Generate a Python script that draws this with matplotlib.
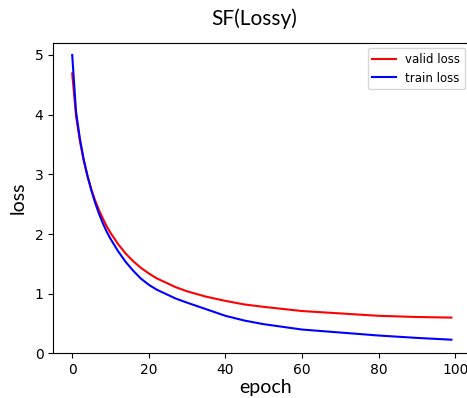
import numpy as np
import matplotlib.pyplot as plt

# values
epochs = [0, 1, 2, 3, 4, 5, 6, 7, 8, 9, 10, 12, 14, 16, 18, 20, 22, 25, 27, 30, 35, 40, 45, 50, 60, 70, 80, 90, 99]
valid_loss = [4.69, 3.98, 3.56, 3.23, 2.97, 2.75, 2.56, 2.40, 2.26, 2.13, 2.02, 1.83, 1.67, 1.54, 1.43,
              1.34, 1.26, 1.17, 1.11, 1.04, 0.95, 0.88, 0.82, 0.78, 0.71, 0.67, 0.63, 0.61, 0.60]
train_loss = [5.00, 4.05, 3.60, 3.25, 2.97, 2.73, 2.52, 2.34, 2.18, 2.04, 1.92, 1.71, 1.53, 1.38, 1.25,
              1.15, 1.07, 0.98, 0.92, 0.85, 0.74, 0.63, 0.55, 0.49, 0.40, 0.35, 0.30, 0.26, 0.23]

fig = plt.figure(figsize=(4.67, 3.98), dpi=100)
ax = fig.add_axes([0.114, 0.112, 0.910, 0.780])

ax.plot(epochs, valid_loss, color='red', label='valid loss')
ax.plot(epochs, train_loss, color='blue', label='train loss')

ax.set_xlim(-4.95, 106)
ax.set_ylim(0, 5.2)
ax.set_xticks([0, 20, 40, 60, 80, 100])
ax.set_yticks([0, 1, 2, 3, 4, 5])

lbl_font = {'family': 'Lato', 'size': 14}
ax.set_xlabel('epoch', fontdict=lbl_font, labelpad=1)
ax.set_ylabel('loss', fontdict=lbl_font, labelpad=6)
fig.suptitle('SF(Lossy)', family='Lato', fontsize=15, x=0.545, y=0.98)

# legend box ends near the figure edge (x~465 px), just under the top spine
ax.legend(loc='upper right', bbox_to_anchor=(0.983, 1.003), fontsize=8.5)

fig.savefig('out.png', dpi=100)
